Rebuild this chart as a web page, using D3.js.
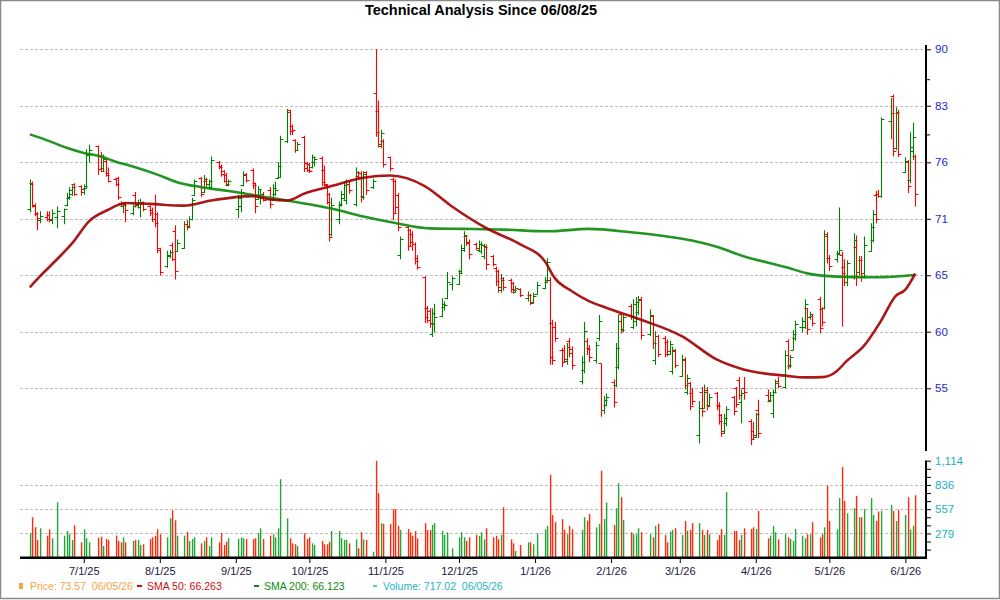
<!DOCTYPE html>
<html>
<head>
<meta charset="utf-8">
<script src="https://cdn.jsdelivr.net/npm/d3@7"></script>
<style>
  body { margin: 0; background: #fff; }
  svg { display: block; font-family: "Liberation Sans", Arial, sans-serif; }
</style>
</head>
<body>
<svg id="chart" width="1000" height="600"></svg>
<script>
// trading calendar
const firstDay = "2025-06-09", lastDay = "2026-06-05";
const holidays = ["2025-06-19", "2025-07-04", "2025-09-01", "2025-11-27", "2025-12-25",
  "2026-01-01", "2026-01-19", "2026-02-16", "2026-04-03", "2026-05-25"];

// daily bars [open, high, low, close]
const ohlc = [
  // June 2025
  [72.0,75.1,71.7,74.6],[74.7,74.9,72.2,72.4],[72.3,72.6,71.3,71.6],[71.5,71.7,69.9,71.1],[70.9,71.8,70.6,71.3],
  [71.2,71.8,70.8,71.0],[71.4,71.8,70.7,70.9],[71.0,72.0,70.5,71.6],[71.2,72.3,70.1,71.8],
  [71.3,72.1,70.5,72.0],[72.4,73.7,72.3,73.3],[73.2,74.3,73.0,74.0],[73.6,74.5,73.4,74.3],[74.6,74.7,73.4,73.6],
  [74.4,74.5,73.4,74.1],
  // July
  [73.8,74.6,73.5,74.4],[74.2,78.4,74.1,77.9],[77.8,78.9,76.9,78.3],
  [78.7,78.8,75.6,76.2],[77.6,78.1,75.9,76.0],[76.3,77.8,76.0,77.3],[77.1,77.3,75.4,75.6],[75.8,76.4,74.8,75.0],
  [75.2,75.3,74.4,74.6],[75.3,75.4,73.0,73.3],[72.7,72.8,72.3,72.5],[72.3,72.6,71.6,72.4],[72.6,72.7,70.7,71.9],
  [71.6,72.5,71.4,72.3],[73.5,73.8,72.2,72.6],[72.4,73.0,72.1,72.7],[72.2,73.1,71.2,72.8],[72.6,72.8,71.8,72.0],
  [72.3,72.4,71.3,71.6],[71.9,72.2,70.7,71.0],[71.0,73.5,70.2,70.6],[71.5,71.7,67.7,68.2],
  // August
  [68.0,68.2,65.6,65.9],
  [66.5,67.9,66.3,67.5],[67.4,68.0,67.2,67.8],[68.5,68.7,66.9,67.1],[69.8,70.4,65.2,66.0],[67.9,69.0,67.8,68.7],
  [68.2,70.8,68.1,70.5],[70.5,70.9,69.9,70.2],[70.3,71.3,70.2,71.0],[71.0,73.2,70.9,73.0],[73.5,75.1,73.4,74.9],
  [75.3,75.4,73.3,73.6],[73.8,75.6,73.7,75.2],[75.0,75.3,74.3,74.6],[74.6,75.1,74.1,74.9],[74.3,77.6,74.0,77.2],
  [77.0,77.1,76.2,76.5],[76.6,76.7,75.4,75.7],[76.0,76.1,74.8,75.0],[75.6,75.8,74.4,74.6],[74.5,75.1,74.4,74.9],
  // September
  [72.0,73.5,71.1,73.2],[72.3,74.1,71.7,73.8],[74.5,76.0,74.4,75.6],[75.7,75.8,74.8,75.1],
  [76.1,76.3,74.1,74.5],[74.7,74.8,71.6,72.3],[73.1,74.4,73.0,74.1],[73.5,74.1,72.5,73.6],[73.4,73.8,72.8,73.0],
  [74.0,74.3,72.1,72.5],[73.1,74.6,73.0,74.2],[73.6,74.9,73.4,74.0],[75.3,77.0,75.2,76.6],[75.4,79.9,75.3,79.5],
  [79.3,83.0,79.1,82.6],[82.9,82.9,80.0,80.4],[81.0,81.2,80.0,80.6],[79.4,79.5,78.0,78.3],[78.3,79.2,78.2,79.0],
  [79.8,79.9,75.9,76.3],[76.9,77.0,75.9,76.1],
  // October
  [76.8,76.9,75.8,76.0],[76.4,77.8,76.3,77.5],[77.0,77.6,76.5,77.3],
  [77.4,77.6,74.4,74.8],[76.1,76.6,74.4,74.6],[74.5,74.6,72.5,72.8],[73.6,73.7,68.8,69.2],[69.5,73.2,69.3,72.4],
  [71.0,72.8,70.5,72.5],[72.4,73.9,72.3,73.6],[73.2,74.9,73.0,74.5],[73.0,75.1,72.5,74.6],[74.6,74.9,73.6,74.0],
  [72.6,76.4,72.3,75.9],[75.5,76.0,75.2,75.4],[75.8,76.0,72.7,73.3],[73.4,76.0,73.0,75.7],[75.9,76.0,73.5,74.0],
  [74.3,75.2,74.1,75.0],[84.9,90.3,79.8,80.3],[82.8,84.0,78.6,79.0],[78.8,80.6,78.5,80.2],[79.3,79.5,76.4,76.8],
  // November
  [77.5,77.6,76.0,76.3],[75.2,75.3,70.9,71.6],[75.0,75.1,71.6,72.2],[73.5,73.7,69.8,70.2],[67.5,69.3,67.1,69.0],
  [70.2,70.3,67.9,68.4],[69.9,70.0,68.3,68.8],[69.5,69.8,67.9,68.6],[68.6,68.7,66.6,66.9],[67.2,67.5,66.1,66.4],
  [65.4,65.5,61.3,61.8],[62.6,62.8,61.3,61.6],[62.4,62.6,60.9,61.3],[60.4,62.6,60.1,62.2],[61.2,63.0,60.5,61.8],
  [61.9,63.5,61.8,63.0],[62.7,63.2,62.4,62.9],[63.5,65.9,63.4,65.0],[64.8,65.5,64.2,65.3],
  // December
  [64.8,66.1,64.7,65.8],[66.0,68.5,65.8,68.2],[68.0,69.8,67.8,69.4],[69.3,69.4,68.4,68.7],[68.8,69.0,67.1,67.6],
  [68.6,68.7,68.0,68.2],[68.0,68.9,67.8,68.6],[67.9,68.8,67.6,68.5],[67.4,68.6,67.1,68.3],[68.4,68.5,66.1,66.6],
  [67.4,67.5,66.4,66.6],[66.3,66.4,64.6,65.1],[66.0,66.1,64.0,64.5],[64.2,65.7,64.0,65.2],[65.3,65.4,64.2,64.5],
  [65.2,65.3,64.0,64.3],[64.9,65.0,63.9,64.2],[64.1,64.6,64.0,64.4],[64.3,64.4,63.6,63.8],
  [63.5,64.1,63.2,63.8],[63.8,63.9,62.9,63.1],[63.2,64.0,63.0,63.7],
  // January 2026
  [63.9,65.0,63.8,64.7],
  [64.4,65.4,64.3,65.2],[65.0,67.2,64.9,66.8],[65.2,65.4,57.8,58.4],[61.3,61.6,57.8,58.2],[61.0,61.4,59.7,60.0],
  [59.0,59.2,57.6,58.0],[59.0,59.4,58.0,58.3],[58.1,59.6,57.8,59.3],[59.8,60.0,58.4,58.8],[59.1,59.3,57.4,57.8],
  [56.5,58.5,56.2,58.0],[57.4,61.4,57.1,60.6],[59.8,60.0,58.6,59.1],[59.2,59.4,58.0,58.4],
  [58.2,59.7,57.9,59.4],[60.0,62.0,59.8,61.5],[57.9,57.9,53.7,54.2],[54.2,55.3,53.9,55.0],[54.6,55.5,54.5,55.2],
  // February
  [56.4,56.6,54.4,54.8],[56.2,59.6,56.0,59.2],[57.6,62.0,57.4,61.5],[62.1,62.2,60.4,60.7],[60.8,62.0,60.5,61.8],
  [62.8,63.0,61.6,61.9],[61.0,63.4,60.8,63.0],[61.5,63.6,61.0,63.2],[62.3,63.7,62.0,63.3],[63.4,63.6,59.9,60.3],
  [60.4,62.5,60.2,62.0],[61.9,62.0,59.1,59.6],[58.2,60.6,57.8,60.2],[60.2,60.3,58.4,58.7],
  [60.0,60.2,58.4,58.7],[59.7,59.9,58.5,58.9],[58.7,59.8,58.6,59.5],[57.3,59.3,57.0,58.9],[59.0,59.1,57.5,57.8],
  // March
  [56.9,58.6,56.8,58.3],[58.2,58.4,55.8,56.2],[55.6,57.0,55.4,56.7],[56.3,56.4,54.2,54.5],[55.5,55.9,54.6,54.9],
  [52.3,54.9,51.7,54.4],[55.6,56.0,53.7,54.1],[54.4,56.2,54.3,55.6],[55.8,56.0,54.2,54.5],[54.6,55.5,54.5,55.2],
  [55.5,55.6,54.2,54.5],[54.6,54.8,53.1,53.4],[53.8,53.9,52.2,52.5],[52.6,53.9,52.4,53.6],[53.2,54.5,53.0,54.3],
  [55.2,55.3,53.8,54.1],[55.9,56.0,54.4,54.7],[56.6,56.8,55.0,55.4],[54.8,55.8,53.2,55.5],[55.9,56.8,55.0,55.6],
  [53.4,53.5,51.6,52.0],[52.6,53.3,52.0,52.3],
  // April
  [52.2,54.0,52.1,53.9],[54.2,55.0,52.1,52.5],
  [55.4,55.8,54.8,55.0],[54.9,55.6,54.8,55.4],[54.0,55.8,53.6,55.6],[55.6,56.6,55.5,56.3],[56.5,56.8,55.9,56.1],
  [56.0,59.0,55.9,58.6],[59.8,59.9,57.4,57.8],[57.7,58.6,57.5,58.4],[59.0,60.7,59.0,60.4],[60.0,61.5,59.8,61.2],
  [61.0,61.8,60.5,61.5],[61.0,63.4,60.8,63.0],[62.6,62.6,60.3,60.8],[61.8,62.3,61.6,62.1],[61.9,62.0,61.0,61.3],
  [63.4,63.6,60.4,60.9],[62.5,62.7,61.0,61.4],[62.6,69.9,62.5,69.3],[69.5,69.7,66.7,67.2],
  // May
  [67.2,67.5,66.0,66.5],
  [67.1,67.9,66.8,67.6],[67.7,72.2,67.5,68.0],[67.5,67.8,61.0,65.8],[66.4,67.1,64.6,65.0],[65.0,67.0,64.6,66.7],
  [65.4,69.6,65.2,68.9],[68.3,69.4,64.6,65.5],[65.9,67.4,65.6,67.0],[67.0,67.4,65.0,65.8],[65.4,69.3,65.3,68.5],
  [67.9,70.6,67.8,70.2],[68.9,71.9,68.7,71.5],[73.5,73.9,70.6,71.0],[73.6,74.0,73.2,73.4],[73.4,82.0,73.2,81.8],
  [81.6,84.3,79.5,82.5],[84.5,84.7,77.6,78.2],[78.5,83.2,78.3,82.6],[82.5,82.9,77.5,77.9],
  // June 2026
  [75.9,77.5,75.8,77.1],[77.0,77.2,73.7,74.4],[75.1,80.3,74.7,78.6],[78.2,81.4,77.2,79.8],[77.6,77.8,72.3,73.57]
];

// daily volume (thousands)
const volume = [
  280,465,350,204,338, 253,326,223,637, 253,307,269,204,372, 177,
  326,223,177, 230,242,134,215,204, 253,192,177,234,177, 192,204,204,146,154, 215,234,250,326,
  269, 234,453,545,430,253, 253,296,192,215,234, 165,192,234,134,234, 177,280,146,184,223,
  215,234,223,215, 215,223,280,338,215, 253,269,234,338,902, 453,223,165,154,134, 280,215,
  234,165,146, 192,154,154,184,307, 307,223,204,204,165, 211,108,292,211,204, 69,1114,741,396,388,
  388,557,557,365,319, 330,292,250,307,223, 396,319,319,376,396, 307,261,292,108,
  234,292,234,192,234, 261,250,292,211,338, 234,250,211,261,580, 211,165,77,146, 177,177,154,
  280, 326,365,952,491,407, 442,319,269,365,326, 319,465,426,503, 349,388,998,445,634,
  376,568,856,695,434, 292,273,269,338,292, 269,234,365,388, 261,177,300,319,338,
  261,422,311,319,396, 396,319,261,319,269, 204,261,330,261,753, 307,307,204,261,338, 330,349,
  330,538, 223,253,365,292,211, 269,234,215,192,330, 253,223,269,269,407, 234,269,349,826,
  422, 326,684,1041,653,511, 568,710,465,465,557, 684,491,422,530,538, 607,538,422,549,
  491,695,326,369,717.02
];

// moving averages, read at a few dates
const sma50Dates = ["2025-06-09","2025-06-13","2025-06-20","2025-06-27","2025-07-03","2025-07-11","2025-07-18",
  "2025-07-28","2025-08-11","2025-08-22","2025-09-08","2025-09-15","2025-09-22","2025-09-29","2025-10-10",
  "2025-10-23","2025-11-03","2025-11-17","2025-11-28","2025-12-12","2025-12-26","2026-01-05","2026-01-09",
  "2026-01-16","2026-01-23","2026-01-30","2026-02-13","2026-03-02","2026-03-16","2026-03-27","2026-04-13",
  "2026-04-21","2026-04-28","2026-05-04","2026-05-08","2026-05-15","2026-05-22","2026-05-28","2026-06-01","2026-06-05"];
const sma50 = [64.49,65.47,67.07,68.84,70.77,71.96,72.66,
  72.56,72.38,72.91,73.36,73.02,72.91,73.64,74.41,
  75.29,75.53,74.41,72.32,70.13,68.52,66.90,65.35,
  64.13,63.24,62.65,61.61,60.16,58.23,57.41,56.91,
  56.77,56.79,57.27,58.09,59.33,61.47,63.69,64.28,65.75];

const sma200Dates = ["2025-06-09","2025-06-17","2025-06-24","2025-07-01","2025-07-08","2025-07-14","2025-07-21",
  "2025-07-31","2025-08-08","2025-08-18","2025-08-29","2025-09-15","2025-09-26","2025-10-10","2025-10-23",
  "2025-11-05","2025-11-19","2025-12-03","2025-12-19","2026-01-06","2026-01-23","2026-02-09","2026-02-20",
  "2026-03-02","2026-03-16","2026-03-27","2026-04-13","2026-04-23","2026-05-04","2026-05-20","2026-06-05"];
const sma200 = [80.06,79.30,78.55,77.98,77.59,77.03,76.50,
  75.63,74.83,74.30,73.89,73.19,72.73,72.08,71.27,
  70.62,70.09,70.04,69.97,69.80,70.04,69.71,69.42,
  69.07,68.30,67.39,66.37,65.72,65.47,65.41,65.62];

// axes
const priceTicks = [55.90, 60.56, 65.59, 71.05, 76.96, 83.37, 90.30];
const priceMinorTicks = [86.5, 80.0];
const volumeTicks = [279, 557, 836, 1114];
const volumeMax = 1114;
const monthTicks = ["2025-07-01","2025-08-01","2025-09-01","2025-10-01","2025-11-01","2025-12-01",
  "2026-01-01","2026-02-01","2026-03-01","2026-04-01","2026-05-01","2026-06-01"];

const title = "Technical Analysis Since 06/08/25";
const legendItems = [
  { text: "Price: 73.57  06/05/26", color: "#f5a448", x: 19, w: 4, h: 6 },
  { text: "SMA 50: 66.263", color: "#c81010", x: 137, w: 5, h: 2 },
  { text: "SMA 200: 66.123", color: "#108a10", x: 254, w: 5, h: 2 },
  { text: "Volume: 717.02  06/05/26", color: "#25b3c3", x: 373, w: 4, h: 1.5 }
];

const parse = d3.timeParse("%Y-%m-%d");
const fmtDay = d3.timeFormat("%Y-%m-%d");

const days = [];
for (let d = parse(firstDay); d <= parse(lastDay); d = d3.timeDay.offset(d, 1)) {
  const wd = d.getDay();
  if (wd === 0 || wd === 6 || holidays.includes(fmtDay(d))) continue;
  days.push(d);
}
const bars = days.map((d, i) => ({
  date: d, o: ohlc[i][0], h: ohlc[i][1], l: ohlc[i][2], c: ohlc[i][3], v: volume[i]
}));

const left = 20, right = 925;
const svg = d3.select("#chart");

const x = d3.scaleTime()
  .domain([parse("2025-06-05"), parse("2026-06-09")])
  .range([left, right]);
const y = d3.scaleLog()
  .domain([priceTicks[0], priceTicks[priceTicks.length - 1]])
  .range([388.3, 49.3]);
const vy = d3.scaleLinear()
  .domain([0, volumeMax])
  .range([557.7, 460.7]);

// frame and title
svg.append("rect")
  .attr("x", 0.5).attr("y", 0.5).attr("width", 999).attr("height", 598)
  .attr("fill", "#fff").attr("stroke", "#8a8a8a").attr("stroke-width", 1.5);

svg.append("text")
  .attr("x", 481).attr("y", 15)
  .attr("text-anchor", "middle")
  .style("font-size", "14.5px").style("font-weight", "bold")
  .attr("fill", "#000")
  .text(title);

// grid lines
svg.append("g").selectAll("line")
  .data(priceTicks)
  .join("line")
  .attr("x1", left).attr("x2", right)
  .attr("y1", d => Math.round(y(d)) + 0.5).attr("y2", d => Math.round(y(d)) + 0.5)
  .attr("stroke", "#bdbdbd").attr("stroke-dasharray", "3,2");

svg.append("g").selectAll("line")
  .data(volumeTicks.slice(0, -1))
  .join("line")
  .attr("x1", left).attr("x2", right)
  .attr("y1", d => Math.round(vy(d)) + 0.5).attr("y2", d => Math.round(vy(d)) + 0.5)
  .attr("stroke", "#bdbdbd").attr("stroke-dasharray", "3,2");

const up = d => d.c >= d.o;

// volume bars
svg.append("g").selectAll("rect")
  .data(bars)
  .join("rect")
  .attr("x", d => Math.round(x(d.date)) - 0.1)
  .attr("width", 1.4)
  .attr("y", d => vy(d.v))
  .attr("height", d => vy(0) - vy(d.v))
  .attr("fill", d => up(d) ? "#22a636" : "#ff2a0a");

// price bars
svg.append("g").selectAll("path")
  .data(bars)
  .join("path")
  .attr("d", d => {
    const px = Math.round(x(d.date)) + 0.5;
    return `M${px},${y(d.h)}V${y(d.l)}` +
      `M${px - 3},${Math.round(y(d.o)) + 0.5}H${px}` +
      `M${px},${Math.round(y(d.c)) + 0.5}H${px + 3}`;
  })
  .attr("fill", "none")
  .attr("stroke", d => up(d) ? "#008000" : "#ff0000")
  .attr("stroke-width", 1.1);

// moving averages
const line = d3.line()
  .x(d => x(d[0]))
  .y(d => y(d[1]))
  .curve(d3.curveMonotoneX);

svg.append("path")
  .datum(sma200Dates.map((d, i) => [parse(d), sma200[i]]))
  .attr("d", line)
  .attr("fill", "none")
  .attr("stroke", "#0a8a0a").attr("stroke-width", 2.6).attr("stroke-opacity", 0.9);

svg.append("path")
  .datum(sma50Dates.map((d, i) => [parse(d), sma50[i]]))
  .attr("d", line)
  .attr("fill", "none")
  .attr("stroke", "#a00000").attr("stroke-width", 2.6).attr("stroke-opacity", 0.9);

// price axis (right)
svg.append("line")
  .attr("x1", right + 1).attr("x2", right + 1).attr("y1", 45).attr("y2", 451)
  .attr("stroke", "#000").attr("stroke-width", 2);

const priceAxis = svg.append("g")
  .attr("transform", `translate(${right + 1},0)`)
  .call(d3.axisRight(y)
    .tickValues(priceTicks)
    .tickFormat(d => Math.floor(d))
    .tickSize(5)
    .tickPadding(4));
priceAxis.select(".domain").remove();
priceAxis.selectAll("text")
  .style("font-size", "11.5px")
  .style("font-family", "'Liberation Sans', Arial, sans-serif")
  .attr("fill", "#2626c8");

svg.append("g").selectAll("line")
  .data(priceMinorTicks)
  .join("line")
  .attr("x1", right + 1).attr("x2", right + 5)
  .attr("y1", d => y(d)).attr("y2", d => y(d))
  .attr("stroke", "#000");

// volume axis (right)
svg.append("line")
  .attr("x1", right + 1).attr("x2", right + 1).attr("y1", 460.5).attr("y2", 558.7)
  .attr("stroke", "#000").attr("stroke-width", 2);

const volAxis = svg.append("g")
  .attr("transform", `translate(${right + 1},0)`)
  .call(d3.axisRight(vy)
    .tickValues(d3.range(1, 13).map(k => volumeMax * k / 12))
    .tickFormat(d => {
      const hit = volumeTicks.find(t => Math.abs(t - d) < 1);
      return hit ? d3.format(",")(hit) : "";
    })
    .tickSize(5)
    .tickPadding(4));
volAxis.select(".domain").remove();
volAxis.selectAll("text")
  .style("font-size", "11.5px")
  .style("font-family", "'Liberation Sans', Arial, sans-serif")
  .attr("fill", "#22b0c0");

// time axis along the volume baseline
svg.append("line")
  .attr("x1", left).attr("x2", right + 2).attr("y1", 557.7).attr("y2", 557.7)
  .attr("stroke", "#000").attr("stroke-width", 2.5);

const timeAxis = svg.append("g")
  .attr("transform", "translate(0,558)")
  .call(d3.axisBottom(x)
    .tickValues(monthTicks.map(parse))
    .tickFormat(d3.timeFormat("%-m/%-d/%y"))
    .tickSize(5)
    .tickPadding(4));
timeAxis.select(".domain").remove();
timeAxis.selectAll("text")
  .style("font-size", "11px")
  .style("font-family", "'Liberation Sans', Arial, sans-serif")
  .attr("fill", "#1d1640");

// legend
const legend = svg.append("g");
legendItems.forEach(it => {
  legend.append("rect")
    .attr("x", it.x).attr("y", 586 - it.h / 2)
    .attr("width", it.w).attr("height", it.h)
    .attr("fill", it.color);
  legend.append("text")
    .attr("x", it.x + (it.h > 3 ? 11 : 10)).attr("y", 590)
    .style("font-size", "10.5px")
    .style("font-family", "'Liberation Sans Narrow', 'Liberation Sans', Arial, sans-serif")
    .style("white-space", "pre")
    .attr("fill", it.color)
    .text(it.text);
});
</script>
</body>
</html>
